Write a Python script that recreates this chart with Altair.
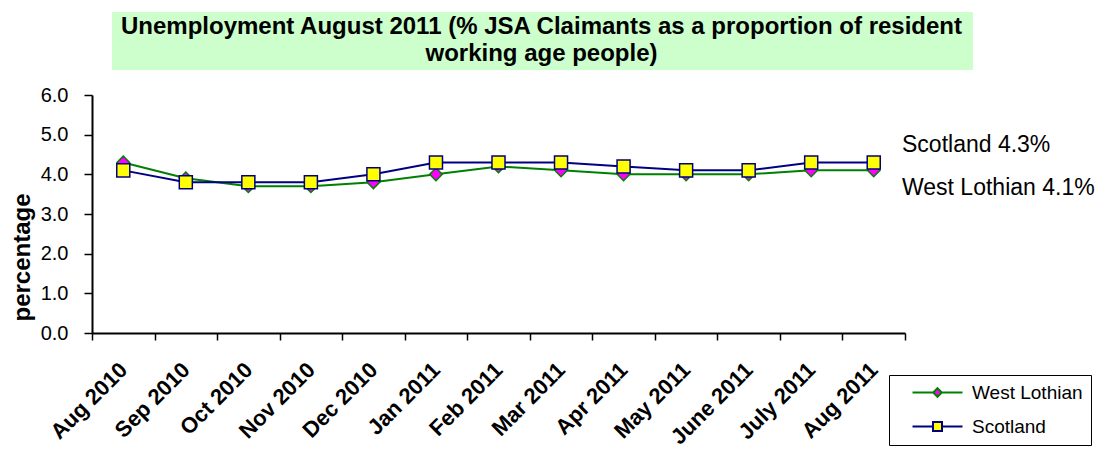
import altair as alt
import pandas as pd

# ---- data ----
months = ["Aug 2010", "Sep 2010", "Oct 2010", "Nov 2010", "Dec 2010", "Jan 2011",
          "Feb 2011", "Mar 2011", "Apr 2011", "May 2011", "June 2011", "July 2011", "Aug 2011"]
west_lothian = [4.3, 3.9, 3.7, 3.7, 3.8, 4.0, 4.2, 4.1, 4.0, 4.0, 4.0, 4.1, 4.1]
scotland = [4.1, 3.8, 3.8, 3.8, 4.0, 4.3, 4.3, 4.3, 4.2, 4.1, 4.1, 4.3, 4.3]
series = ["West Lothian", "Scotland"]
title_lines = ["Unemployment August  2011 (% JSA Claimants as a proportion of resident",
               "working age people)"]
y_title = "percentage"
annotations = ["Scotland 4.3%", "West Lothian 4.1%"]
y_ticks = [0, 1, 2, 3, 4, 5, 6]

FONT = "Liberation Sans"
GREEN = "#008000"
NAVY = "#000080"
MAGENTA = "#FF00FF"
YELLOW = "#FFFF00"

df = pd.DataFrame({
    "month": months * 2,
    "value": west_lothian + scotland,
    "series": [series[0]] * len(months) + [series[1]] * len(months),
})

x_enc = alt.X(
    "month:N", sort=months, title=None,
    scale=alt.Scale(paddingInner=0, paddingOuter=0),
    axis=alt.Axis(
        labelAngle=-45, labelAlign="right", labelBaseline="middle",
        labelFont=FONT, labelFontSize=22, labelFontWeight="bold", labelColor="black",
        labelPadding=26, tickBand="extent", tickSize=7, tickColor="black", tickWidth=1.5,
        domainColor="black", domainWidth=2, grid=False, labelOverlap=False,
    ),
)
y_enc = alt.Y(
    "value:Q", scale=alt.Scale(domain=[0, 6], nice=False),
    axis=alt.Axis(
        values=y_ticks, format=".1f", title=y_title,
        labelFont=FONT, labelFontSize=20, labelColor="black", labelPadding=16,
        tickSize=8, tickColor="black", tickWidth=1.5,
        domainColor="black", domainWidth=2, grid=False,
        titleFont=FONT, titleFontSize=24, titleFontWeight="bold", titleColor="black",
        titleX=-70, titleY=162, titleAngle=270, titleAlign="center", titleBaseline="middle",
    ),
)

base = alt.Chart(df).encode(x=x_enc, y=y_enc)
wl = base.transform_filter(alt.datum.series == series[0])
sc = base.transform_filter(alt.datum.series == series[1])

wl_line = wl.mark_line(color=GREEN, strokeWidth=2)
wl_pts = wl.mark_point(shape="diamond", filled=True, fill=MAGENTA, stroke=GREEN,
                       strokeWidth=1.5, size=160, opacity=1)
sc_line = sc.mark_line(color=NAVY, strokeWidth=2)
sc_pts = sc.mark_point(shape="square", filled=True, fill=YELLOW, stroke=NAVY,
                       strokeWidth=1.5, size=170, opacity=1)

# legend symbols: line with marker on it
diamond_path = "M-5,0L-0.85,0M0.85,0L5,0M0,-0.85L0.85,0L0,0.85L-0.85,0Z"
square_path = "M-5,0L-0.9,0M0.9,0L5,0M-0.9,-0.9L0.9,-0.9L0.9,0.9L-0.9,0.9Z"
legend = alt.Legend(
    title=None, orient="none", legendX=797, legendY=280,
    strokeColor="black", padding=8, fillColor="white",
    labelFont=FONT, labelFontSize=19, labelColor="black",
    symbolSize=100, symbolStrokeWidth=2, symbolOffset=31, labelOffset=25,
    rowPadding=14,
)
legend_layer = alt.Chart(df).transform_filter("false").mark_point(
    filled=True, size=100, strokeWidth=2, opacity=1
).encode(
    fill=alt.Fill("series:N", scale=alt.Scale(domain=series, range=[MAGENTA, YELLOW]), legend=legend),
    stroke=alt.Stroke("series:N", scale=alt.Scale(domain=series, range=[GREEN, NAVY]), legend=legend),
    shape=alt.Shape("series:N", scale=alt.Scale(domain=series, range=[diamond_path, square_path]), legend=legend),
)

# title background box
bg = alt.Chart(pd.DataFrame({"k": [0]})).mark_rect(color="#CCFFCC").encode(
    x=alt.value(20), x2=alt.value(881), y=alt.value(-83), y2=alt.value(-25)
)

ann_df = pd.DataFrame({"label": annotations})
ann_sc = alt.Chart(ann_df).transform_filter(alt.datum.label == annotations[0]).mark_text(
    align="left", baseline="middle", font=FONT, fontSize=23, color="black"
).encode(text="label:N", x=alt.value(810), y=alt.value(50))
ann_wl = alt.Chart(ann_df).transform_filter(alt.datum.label == annotations[1]).mark_text(
    align="left", baseline="middle", font=FONT, fontSize=23, color="black"
).encode(text="label:N", x=alt.value(810), y=alt.value(93))

chart = alt.layer(
    bg, wl_line, wl_pts, sc_line, sc_pts, legend_layer, ann_sc, ann_wl
).resolve_scale(
    fill="independent", stroke="independent", shape="independent"
).properties(
    width=813, height=238,
    autosize=alt.AutoSizeParams(type="none"),
    padding={"left": 84, "top": 87, "right": 196, "bottom": 113},
    title=alt.TitleParams(
        text=title_lines, font=FONT, fontSize=24, fontWeight="bold", color="black",
        anchor="middle", frame="group", dx=43, offset=-54, lineHeight=27,
    ),
).configure(
    background="white",
    view=alt.ViewConfig(stroke=None, strokeWidth=0, strokeOpacity=0),
    style={"cell": {"stroke": None, "strokeWidth": 0, "strokeOpacity": 0}},
    axis=alt.AxisConfig(grid=False, gridOpacity=0),
)

chart.save("out.html", embed_options={"renderer": "svg", "actions": False})
